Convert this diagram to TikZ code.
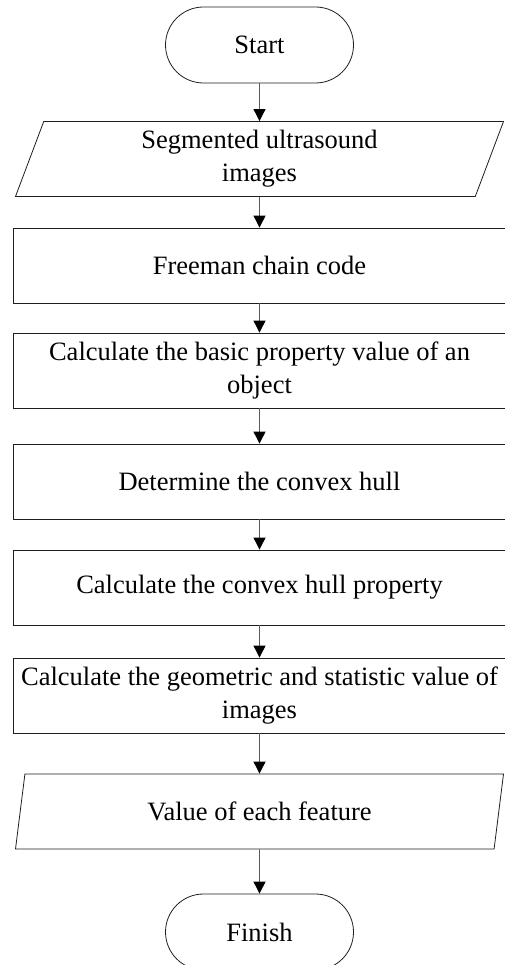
\documentclass[tikz,border=0pt]{standalone}
\usepackage{fontspec}
\setmainfont{Liberation Serif}
\usetikzlibrary{arrows.meta,shapes.geometric}
\definecolor{rahmen}{HTML}{1E1E1E}
\definecolor{schaft}{HTML}{5A5A5A}
\newcommand{\txt}{\fontsize{26.5}{33}\selectfont}
\tikzset{terminal/.style={draw=rahmen,line width=0.8pt,rounded corners=38pt,
    minimum width=188pt,minimum height=76pt,inner sep=0,font=\txt},
  iobox/.style={draw=rahmen,line width=0.8pt,trapezium,trapezium left angle=63.7,
    trapezium right angle=116.3,trapezium stretches body,minimum width=488pt,
    minimum height=75pt,inner sep=0,align=center,font=\txt},
  stepbox/.style={draw=rahmen,line width=0.8pt,minimum width=493pt,
    minimum height=75pt,inner sep=0,align=center,font=\txt},
  flow/.style={schaft,line width=0.9pt,-{Triangle[length=12pt,width=12pt,color=black]}}}

\begin{document}
\begin{tikzpicture}[x=1pt,y=-1pt]
\useasboundingbox (0,0) rectangle (504,965);
% Ablauf von oben nach unten, alles mittig auf x=259.5
\node[terminal] (start) at (259.5,45) {Start};
\node[iobox] (seg) at (259.5,159) {Segmented ultrasound\\images};
\node[stepbox] (freeman) at (259.5,265.5) {Freeman chain code};
\node[stepbox] (basic) at (259.5,370.5) {Calculate the basic property value of an\\object};
\node[stepbox] (hull) at (259.5,481.5) {Determine the convex hull};
\node[stepbox] (hullprop) at (259.5,587.5) {Calculate the convex hull property};
\node[stepbox] (geom) at (259.5,695.5) {Calculate the geometric and statistic value of\\images};
\node[iobox] (feature) at (259.5,811.5) {Value of each feature};
\node[terminal] (finish) at (259.5,932) {Finish};
\foreach \a/\b in {start/seg,seg/freeman,freeman/basic,basic/hull,hull/hullprop,
  hullprop/geom,geom/feature,feature/finish}
  \draw[flow] (\a) -- (\b);
\end{tikzpicture}
\end{document}
